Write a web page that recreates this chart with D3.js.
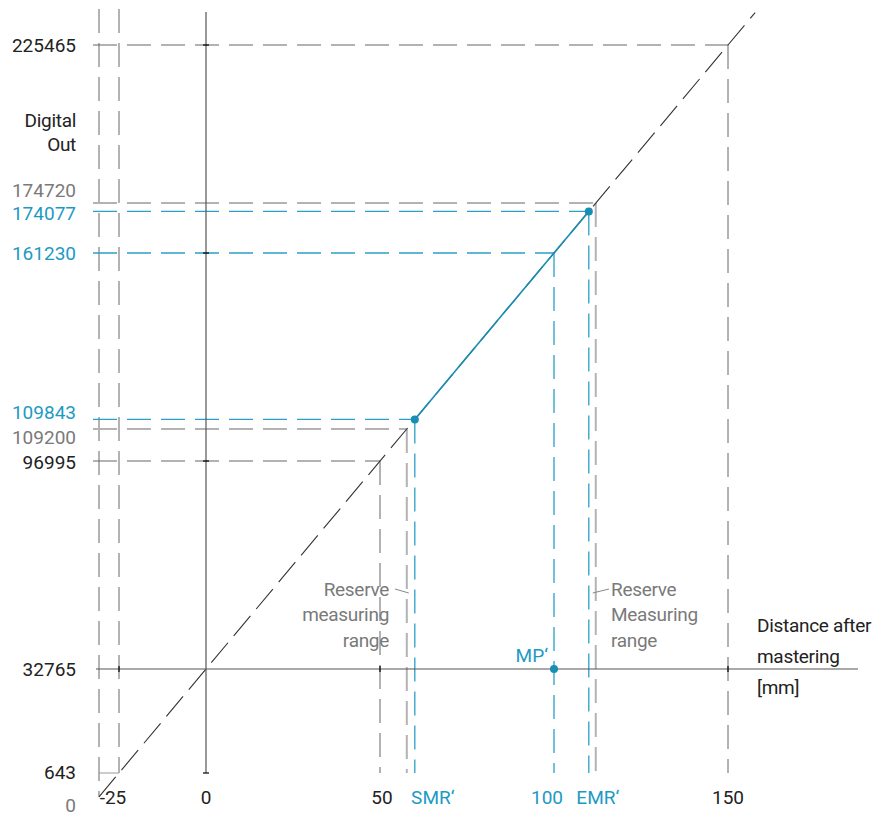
<!DOCTYPE html>
<html>
<head>
<meta charset="utf-8">
<script src="https://cdn.jsdelivr.net/npm/d3@7"></script>
<style>
  body { margin: 0; background: #fff; }
  text { font-family: Roboto, "Noto Sans", sans-serif; font-size: 19px; }
</style>
</head>
<body>
<div id="chart"></div>
<script>
// transfer line: digital out at 0 mm and at 150 mm
const outAtZero = 32765;
const outAt150 = 225465;

// guides on the y side: value shown, where it sits on the line (mm), tone
const yValues = [225465, 174720, 174077, 161230, 109843, 109200, 96995, 32765, 643, 0];
const yMm     = [150, 112, 110, 100, 60, 57.7, 50, 0, -25, -30.75];
const yTone   = ["dark", "gray", "blue", "blue", "blue", "gray", "dark", "dark", "dark", "gray"];

// x labels
const xLabels = ["-25", "0", "50", "SMR\u2018", "100", "EMR\u2018", "150"];
const xMm     = [-25, 0, 50, 60, 100, 110, 150];
const xTone   = ["dark", "dark", "dark", "blue", "blue", "blue", "dark"];

// measured section and middle point
const smrMm = 60, emrMm = 110, mpMm = 100;
const lineEndMm = 157.8;

const W = 885, H = 818;
const svg = d3.select("#chart").append("svg")
    .attr("width", W)
    .attr("height", H);

const x = d3.scaleLinear().domain([0, 150]).range([206, 728]);
const y = d3.scaleLinear().domain([outAtZero, outAt150]).range([669, 45]);
const transfer = mm => outAtZero + (outAt150 - outAtZero) / 150 * mm;
const py = mm => y(transfer(mm));

const colors = {dark: "#222", gray: "#7a7a7a", blue: "#1d9ac4"};
const guideStroke = {dark: "#666", gray: "#b3b3b3", blue: "#2aa0c8"};
const guideWidth = {dark: 1, gray: 2, blue: 1.3};
const dash = "24,10";

const bottomMm = -25;          // vertical guides stop at the 643 level
const zeroMm = -30.75;
const leftX = 93;
const topY = 9;

// long vertical guides on the left (0 level and -25)
[zeroMm, bottomMm].forEach(mm => {
    svg.append("line")
        .attr("x1", x(mm)).attr("x2", x(mm))
        .attr("y1", topY).attr("y2", py(mm))
        .attr("stroke", "#b3b3b3").attr("stroke-width", 2)
        .attr("stroke-dasharray", dash);
});

// 643 short solid link
svg.append("line")
    .attr("x1", x(zeroMm)).attr("x2", x(bottomMm))
    .attr("y1", py(bottomMm)).attr("y2", py(bottomMm))
    .attr("stroke", "#999").attr("stroke-width", 1);

// horizontal and vertical guides from each point on the line
yValues.forEach((v, i) => {
    const mm = yMm[i];
    if (mm <= 0) return;
    const tone = yTone[i];
    svg.append("line")
        .attr("x1", leftX).attr("x2", x(mm))
        .attr("y1", py(mm)).attr("y2", py(mm))
        .attr("stroke", guideStroke[tone]).attr("stroke-width", guideWidth[tone])
        .attr("stroke-dasharray", dash);
    svg.append("line")
        .attr("x1", x(mm)).attr("x2", x(mm))
        .attr("y1", py(mm)).attr("y2", py(bottomMm))
        .attr("stroke", guideStroke[tone]).attr("stroke-width", guideWidth[tone])
        .attr("stroke-dasharray", dash);
});

// axes
svg.append("line")
    .attr("x1", 96).attr("x2", 858)
    .attr("y1", y(outAtZero)).attr("y2", y(outAtZero))
    .attr("stroke", "#555").attr("stroke-width", 1.2);
svg.append("line")
    .attr("x1", x(0)).attr("x2", x(0))
    .attr("y1", 12).attr("y2", py(bottomMm))
    .attr("stroke", "#555").attr("stroke-width", 1.2);

// small crossing ticks
const yTickVals = [225465, 161230, 96995];
yTickVals.forEach(v => {
    svg.append("line")
        .attr("x1", x(0) - 3).attr("x2", x(0) + 3)
        .attr("y1", y(v)).attr("y2", y(v))
        .attr("stroke", "#000").attr("stroke-width", 1.2);
});
svg.append("line")
    .attr("x1", x(0) - 3).attr("x2", x(0) + 3)
    .attr("y1", py(bottomMm)).attr("y2", py(bottomMm))
    .attr("stroke", "#000").attr("stroke-width", 1.2);
[-25, 50, 150].forEach(mm => {
    svg.append("line")
        .attr("x1", x(mm)).attr("x2", x(mm))
        .attr("y1", y(outAtZero) - 3).attr("y2", y(outAtZero) + 3)
        .attr("stroke", "#000").attr("stroke-width", 1.2);
});

// dashed transfer line
const lineGen = d3.line().x(d => x(d)).y(d => py(d));
svg.append("path")
    .attr("d", lineGen([zeroMm, lineEndMm]))
    .attr("fill", "none")
    .attr("stroke", "#333").attr("stroke-width", 1.1)
    .attr("stroke-dasharray", "26,9");

// measuring range (solid blue)
svg.append("path")
    .attr("d", lineGen([smrMm, emrMm]))
    .attr("fill", "none")
    .attr("stroke", "#1a8db4").attr("stroke-width", 1.6);

// dots
[[smrMm, py(smrMm)], [emrMm, py(emrMm)], [mpMm, y(outAtZero)]].forEach(p => {
    svg.append("circle")
        .attr("cx", x(p[0])).attr("cy", p[1]).attr("r", 4)
        .attr("fill", "#1a8db4");
});

// y labels
const yNudge = {174720: -13, 174077: 2, 109843: -7, 109200: 8, 96995: 1, 0: 8, 643: -1};
yValues.forEach((v, i) => {
    svg.append("text")
        .attr("x", 76)
        .attr("y", py(yMm[i]) + (yNudge[v] || 0))
        .attr("dy", "0.35em")
        .attr("text-anchor", "end")
        .attr("fill", colors[yTone[i]])
        .text(v);
});

// x labels
const xNudge = {"-25": -6, "50": 2, "SMR\u2018": 18, "100": -7, "EMR\u2018": 9};
xLabels.forEach((t, i) => {
    svg.append("text")
        .attr("x", x(xMm[i]) + (xNudge[t] || 0))
        .attr("y", 797)
        .attr("dy", "0.35em")
        .attr("text-anchor", "middle")
        .attr("fill", colors[xTone[i]])
        .text(t);
});

// MP label
svg.append("text")
    .attr("x", x(mpMm) - 6).attr("y", 655).attr("dy", "0.35em")
    .attr("text-anchor", "end").attr("fill", colors.blue)
    .text("MP\u2018");

// axis titles
function block(lines, tx, ty, gap, anchor, fill) {
    lines.forEach((l, i) => {
        svg.append("text")
            .attr("x", tx).attr("y", ty + i * gap).attr("dy", "0.35em")
            .attr("text-anchor", anchor).attr("fill", fill)
            .attr("letter-spacing", "-0.3px")
            .text(l);
    });
}
block(["Digital", "Out"], 76, 120, 24, "end", colors.dark);
block(["Distance after", "mastering", "[mm]"], 757, 625, 31, "start", colors.dark);
block(["Reserve", "measuring", "range"], 389, 589, 25.5, "end", colors.gray);
block(["Reserve", "Measuring", "range"], 611, 589, 25.5, "start", colors.gray);

// leader lines to the reserve guides
svg.append("line")
    .attr("x1", 395).attr("y1", 589).attr("x2", x(57.7) + 2).attr("y2", 593)
    .attr("stroke", "#888").attr("stroke-width", 1);
svg.append("line")
    .attr("x1", x(112) - 3).attr("y1", 593).attr("x2", 609).attr("y2", 589)
    .attr("stroke", "#888").attr("stroke-width", 1);
</script>
</body>
</html>
